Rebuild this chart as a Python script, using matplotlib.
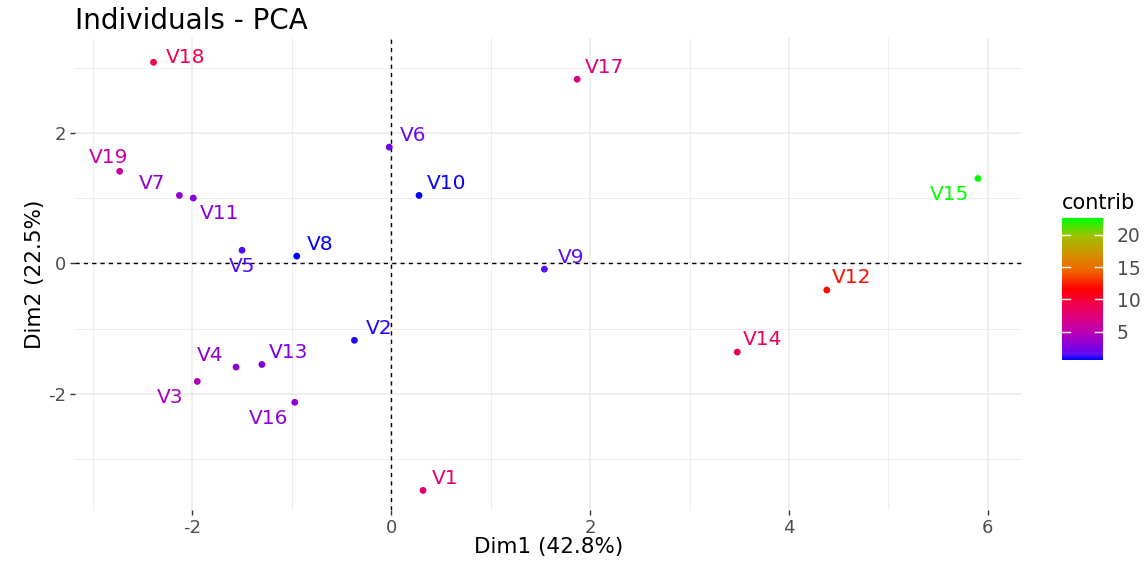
import matplotlib
matplotlib.use("Agg")
import matplotlib.pyplot as plt
import numpy as np
from matplotlib.colors import LinearSegmentedColormap, Normalize
from matplotlib.ticker import MultipleLocator

plt.rcParams["font.family"] = ["DejaVu Sans"]
plt.rcParams["axes.unicode_minus"] = False

# ---- data ----
labels = ["V1", "V2", "V3", "V4", "V5", "V6", "V7", "V8", "V9", "V10",
          "V11", "V12", "V13", "V14", "V15", "V16", "V17", "V18", "V19"]
dim1 = [0.32, -0.37, -1.95, -1.56, -1.50, -0.02, -2.13, -0.95, 1.54, 0.28,
        -1.99, 4.38, -1.30, 3.48, 5.90, -0.97, 1.87, -2.39, -2.73]
dim2 = [-3.48, -1.18, -1.81, -1.59, 0.20, 1.78, 1.04, 0.11, -0.09, 1.04,
        1.00, -0.41, -1.55, -1.36, 1.30, -2.13, 2.82, 3.08, 1.41]
contrib = [7.5, 0.95, 4.4, 3.1, 1.4, 2.0, 3.5, 0.56, 1.5, 0.7,
           3.1, 12.0, 2.5, 8.6, 22.6, 3.4, 7.1, 9.4, 5.8]
cbar_ticks = [5, 10, 15, 20]
xticks = [-2, 0, 2, 4, 6]
yticks = [-2, 0, 2]

# label placement (pixel offsets, ha)
label_offsets = {
    "V1": (9, -12, "left"), "V2": (11, -12, "left"), "V3": (-14, 16, "right"),
    "V4": (-13, -12, "right"), "V5": (13, 16, "right"), "V6": (11, -12, "left"),
    "V7": (-14, -12, "right"), "V8": (10, -12, "left"), "V9": (13, -12, "left"),
    "V10": (8, -12, "left"), "V11": (7, 15, "left"), "V12": (5, -13, "left"),
    "V13": (7, -12, "left"), "V14": (6, -13, "left"), "V15": (-9, 16, "right"),
    "V16": (-7, 16, "right"), "V17": (8, -12, "left"), "V18": (12, -5, "left"),
    "V19": (9, -14, "right"),
}

cmap = LinearSegmentedColormap.from_list("bluredgreen", [
    (0.0, "#0000FF"), (0.04, "#5A10F5"), (0.08, "#7A00E6"), (0.15, "#A000C8"),
    (0.22, "#C400A8"), (0.3, "#DC007E"), (0.4, "#F20048"), (0.5, "#FF0000"),
    (0.625, "#F26200"), (0.75, "#D09200"), (0.875, "#A0C000"), (1.0, "#00FF00")])
norm = Normalize(vmin=min(contrib), vmax=max(contrib))

fig = plt.figure(figsize=(11.48, 5.61), dpi=100)
ax = fig.add_axes([0.0653, 0.0909, 0.8247, 0.8411])

ax.set_xlim(-3.18, 6.34)
ax.set_ylim(-3.78, 3.45)

ax.xaxis.set_major_locator(MultipleLocator(2))
ax.xaxis.set_minor_locator(MultipleLocator(1))
ax.yaxis.set_major_locator(MultipleLocator(2))
ax.yaxis.set_minor_locator(MultipleLocator(1))
ax.grid(which="major", color="#EBEBEB", linewidth=1.1)
ax.grid(which="minor", color="#EBEBEB", linewidth=0.6)
ax.set_axisbelow(True)
for s in ax.spines.values():
    s.set_visible(False)
ax.tick_params(which="minor", length=0)
ax.tick_params(which="major", length=3.5, width=1, color="#333333",
               labelcolor="#4D4D4D", labelsize=13, pad=3)
ax.set_xticks(xticks)
ax.set_yticks(yticks)

ax.axhline(0, color="black", linestyle=(0, (3, 3)), linewidth=1.0, zorder=1)
ax.axvline(0, color="black", linestyle=(0, (3, 3)), linewidth=1.0, zorder=1)

colors = cmap(norm(np.array(contrib)))
ax.scatter(dim1, dim2, c=colors, s=24, zorder=3, edgecolors="none")

for lab, x, y, c in zip(labels, dim1, dim2, colors):
    dx, dy, ha = label_offsets[lab]
    ax.annotate(lab, (x, y), xytext=(dx, -dy), textcoords="offset pixels",
                ha=ha, va="center", fontsize=14.5, color=c, zorder=4)

ax.set_xlabel("Dim1 (42.8%)", fontsize=15.5, color="black", labelpad=0)
ax.set_ylabel("Dim2 (22.5%)", fontsize=15.5, color="black", labelpad=2)
fig.text(0.0653, 0.963, "Individuals - PCA", fontsize=20, ha="left",
         va="center", color="black")

# colorbar
cax = fig.add_axes([0.925, 0.358, 0.0357, 0.253])
sm = plt.cm.ScalarMappable(norm=norm, cmap=cmap)
cb = fig.colorbar(sm, cax=cax, ticks=cbar_ticks)
cb.outline.set_visible(False)
cax.tick_params(length=0, labelsize=13.5, labelcolor="#4D4D4D", pad=10)
for t in cbar_ticks:
    cax.plot([0, 0.2], [t, t], color="white", lw=1, transform=cax.get_yaxis_transform())
    cax.plot([0.8, 1.0], [t, t], color="white", lw=1, transform=cax.get_yaxis_transform())
fig.text(0.925, 0.638, "contrib", fontsize=15, ha="left", va="center", color="black")

fig.savefig("out.png", dpi=100)
